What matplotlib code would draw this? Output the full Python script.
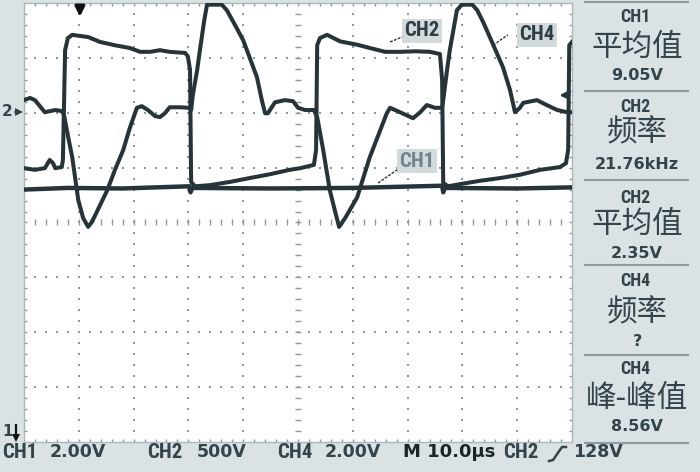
import matplotlib
matplotlib.use("Agg")
import matplotlib.pyplot as plt
from matplotlib import font_manager as fm
from matplotlib.lines import Line2D
import numpy as np

# ---------------- data (time in us, amplitude in screen divisions) ----------------
ch1_t = [0, 8, 18, 30.2, 30.4, 30.7, 45, 60, 76.3, 76.5, 76.8, 90, 100]
ch1_v = [0.60, 0.63, 0.62, 0.66, 0.55, 0.63, 0.62, 0.63, 0.67, 0.55, 0.63, 0.62, 0.64]

ch2_t = [0, 2.0, 3.8, 4.7, 5.3, 5.7, 6.9, 7.1, 7.5, 8.0, 8.8, 10.2, 11.7, 13.9, 16.6,
         19.3, 21.2, 23.0, 24.8, 26.6, 29.4, 29.9, 30.3, 30.5, 31.2, 33.9, 37.6, 41.2,
         44.9, 48.5, 50.4, 52.9, 53.3, 53.5, 54.0, 55.3, 57.7, 60.8, 63.1, 65.9, 68.6,
         71.4, 74.1, 75.9, 76.3, 76.5, 77.4, 79.6, 83.2, 86.9, 90.5, 94.2, 97.8, 98.9,
         99.3, 99.5, 100]
ch2_v = [0.99, 0.96, 0.99, 1.14, 1.08, 0.99, 1.01, 1.14, 3.14, 3.36, 3.42, 3.40, 3.38,
         3.29, 3.23, 3.18, 3.11, 3.11, 3.14, 3.11, 3.09, 3.03, 2.78, 0.74, 0.66, 0.68,
         0.74, 0.81, 0.88, 0.96, 0.99, 1.05, 1.32, 3.23, 3.36, 3.42, 3.30, 3.24, 3.18,
         3.11, 3.11, 3.12, 3.11, 3.07, 2.60, 0.72, 0.66, 0.70, 0.76, 0.81, 0.87, 0.96,
         1.01, 1.08, 1.32, 3.23, 3.29]

ch4_t = [0, 1.1, 2.0, 2.9, 3.8, 5.7, 6.9, 7.3, 8.0, 8.8, 9.9, 10.8, 11.7, 12.4, 13.9,
         15.2, 16.6, 18.1, 19.3, 20.6, 21.5, 22.6, 23.9, 24.8, 25.7, 26.6, 28.5, 30.1,
         30.5, 30.8, 31.6, 32.1, 32.9, 33.4, 36.1, 37.0, 38.5, 40.0, 41.2, 42.5, 43.4,
         44.0, 44.5, 45.8, 47.6, 49.1, 50.0, 51.3, 52.9, 53.5, 54.6, 55.8, 56.8, 57.5,
         58.6, 60.8, 63.1, 65.0, 66.2, 66.8, 68.6, 71.0, 72.3, 73.5, 75.0, 76.3, 76.5,
         77.2, 77.7, 79.0, 79.9, 81.8, 82.7, 83.8, 85.0, 87.4, 88.7, 89.6, 90.5, 91.1,
         93.6, 95.4, 97.3, 99.1, 100]
ch4_v = [2.23, 2.27, 2.23, 2.12, 2.01, 2.05, 2.03, 1.96, 1.59, 1.19, 0.41, 0.08, -0.08,
         0.01, 0.32, 0.59, 0.96, 1.32, 1.72, 2.09, 2.12, 2.05, 1.94, 1.92, 1.99, 2.10,
         2.10, 2.09, 2.05, 2.32, 2.78, 3.14, 3.69, 3.97, 3.97, 3.87, 3.60, 3.32, 3.00,
         2.65, 2.23, 1.99, 1.99, 2.19, 2.23, 2.21, 2.09, 2.05, 2.05, 1.92, 1.32, 0.59,
         0.19, -0.08, 0.08, 0.46, 1.19, 1.68, 1.99, 2.09, 2.01, 1.90, 2.01, 2.14, 2.09,
         2.09, 2.23, 2.78, 3.14, 3.87, 3.97, 3.97, 3.87, 3.65, 3.38, 2.83, 2.41, 2.01,
         2.09, 2.18, 2.23, 2.14, 2.05, 2.01, 2.01]

panel_channels = ["CH1", "CH2", "CH2", "CH4", "CH4"]
panel_names = ["平均值", "频率", "平均值", "频率", "峰-峰值"]
panel_values = ["9.05V", "21.76kHz", "2.35V", "?", "8.56V"]

bottom_labels = ["CH1", "2.00V", "CH2", "500V", "CH4", "2.00V"]
timebase = "M 10.0\u00b5s"
trigger_src, trigger_level = "CH2", "128V"

# ---------------- style ----------------
names = {f.name for f in fm.fontManager.ttflist}
NARROW = "DejaVu Sans"
for cand in ["Liberation Sans Narrow", "DejaVu Sans Condensed", "Roboto Condensed",
             "Noto Sans Condensed", "Open Sans Condensed", "Roboto"]:
    if cand in names:
        NARROW = cand
        break
CJK = ["Noto Sans CJK SC", "DejaVu Sans"]

BG = "#dbe2e3"
TRACE = "#26343a"
TXT = "#34444c"
GRIDC = "#8a999d"

W, H = 700, 472
fig = plt.figure(figsize=(7, 4.72), dpi=100, facecolor=BG)


def fx(px):
    return px / W


def fy(py):
    return 1 - py / H


ax = fig.add_axes([24 / W, 1 - 442 / H, 548 / W, 439 / H])
ax.set_facecolor("white")
ax.set_xlim(0, 100)
ax.set_ylim(-4, 4)
ax.set_xticks([])
ax.set_yticks([])
for s in ax.spines.values():
    s.set_color("#aab6b8")
    s.set_linewidth(1.0)

# graticule
minor_x = np.arange(2, 100, 2)
minor_y = np.round(np.arange(-3.8, 4.0, 0.2), 2)
for xv in range(10, 100, 10):
    if xv != 50:
        ax.plot(np.full(len(minor_y), xv), minor_y, ls="none", marker="s", ms=1.6,
                mew=0, color=GRIDC, zorder=1)
for yv in [-3, -2, -1, 1, 2, 3]:
    ax.plot(minor_x, np.full(len(minor_x), yv), ls="none", marker="s", ms=1.6,
            mew=0, color=GRIDC, zorder=1)
tick_kw = dict(ls="none", ms=5, mew=1, color=GRIDC, zorder=1)
ax.plot(minor_x, np.zeros(len(minor_x)), marker="|", **tick_kw)
ax.plot(np.full(len(minor_y), 50), minor_y, marker="_", **tick_kw)
ax.plot(minor_x, np.full(len(minor_x), 4), marker="|", **tick_kw)
ax.plot(minor_x, np.full(len(minor_x), -4), marker="|", **tick_kw)
ax.plot(np.zeros(len(minor_y)), minor_y, marker="_", **tick_kw)
ax.plot(np.full(len(minor_y), 100), minor_y, marker="_", **tick_kw)

# traces
ax.plot(ch1_t, ch1_v, color=TRACE, lw=3.2, zorder=3)
ax.plot(ch2_t, ch2_v, color=TRACE, lw=2.9, zorder=3)
ax.plot(ch4_t, ch4_v, color=TRACE, lw=2.9, zorder=3)

# channel labels
box = dict(boxstyle="square,pad=0.12", fc="#d3dadb", ec="none")
ax.text(72.6, 3.49, "CH2", family=NARROW, weight="bold", size=15, ha="center",
        va="center", color="#2f3d44", bbox=box, zorder=4)
ax.text(93.6, 3.42, "CH4", family=NARROW, weight="bold", size=15, ha="center",
        va="center", color="#2f3d44", bbox=box, zorder=4)
ax.text(71.7, 1.12, "CH1", family=NARROW, weight="bold", size=15, ha="center",
        va="center", color="#6f8490", bbox=box, zorder=4)
for (xa, xb, ya, yb) in [(66.8, 69.0, 3.29, 3.38), (85.6, 88.3, 3.23, 3.42),
                         (64.6, 68.1, 0.72, 0.96)]:
    ax.plot([xa, xb], [ya, yb], color=TRACE, lw=1.0, ls=(0, (2, 1)), zorder=4)

# trigger position marker and CH4 reference marker
ax.annotate("", xy=(10.2, 3.70), xytext=(10.2, 4.0),
            arrowprops=dict(arrowstyle="-|>", lw=2.4, color="#111111",
                            mutation_scale=14), annotation_clip=False, zorder=5)
ax.annotate("", xy=(97.2, 2.32), xytext=(100, 2.32),
            arrowprops=dict(arrowstyle="-|>", lw=1.8, color=TRACE,
                            mutation_scale=10), annotation_clip=False, zorder=5)

# left-side markers
fig.text(fx(2), fy(112), "2", family="DejaVu Sans", weight="bold", size=11,
         color=TXT, ha="left", va="center")
fig.add_artist(Line2D([fx(15), fx(20)], [fy(112), fy(112)], color=TXT, lw=1.2))
fig.add_artist(Line2D([fx(19)], [fy(112)], marker=">", ms=6, color=TXT, mew=0))
fig.text(fx(2), fy(431), "1", family="DejaVu Sans", weight="bold", size=11,
         color=TXT, ha="left", va="center")
fig.add_artist(Line2D([fx(16), fx(16)], [fy(425), fy(436)], color="#111111", lw=1.6))
fig.add_artist(Line2D([fx(16)], [fy(438)], marker="v", ms=6, color="#111111", mew=0))

# right measurement panel
block_y = [(16.5, 47.5, 75.0), (107.5, 133.0, 164.5), (198.0, 224.0, 253.5),
           (281.5, 312.5, 341.0), (369.5, 398.5, 426.5)]
for (yc, yn, yv), ch, nm, val in zip(block_y, panel_channels, panel_names, panel_values):
    fig.text(fx(635), fy(yc), ch, family=NARROW, weight="bold", size=13, color=TXT,
             ha="center", va="center")
    fig.text(fx(637), fy(yn), nm, family=CJK, size=22, color=TXT,
             ha="center", va="center")
    fig.text(fx(637), fy(yv), val, family="DejaVu Sans", weight="bold", size=11.5,
             color=TXT, ha="center", va="center")
for ys in [2, 90.7, 180, 265, 355, 443]:
    fig.add_artist(Line2D([fx(585), fx(688)], [fy(ys), fy(ys)], color="#8e9c9f", lw=1.5))

# bottom status bar
ybar = fy(452)
xs = [2, 50, 147, 197, 277, 325]
for x, lab in zip(xs, bottom_labels):
    if lab.startswith("CH"):
        fig.text(fx(x), ybar, lab, family=NARROW, weight="bold", size=15, color=TXT,
                 ha="left", va="center")
    else:
        fig.text(fx(x), ybar, lab, family="DejaVu Sans", weight="bold", size=12.5,
                 color=TXT, ha="left", va="center")
fig.text(fx(403), ybar, timebase, family="DejaVu Sans", weight="bold", size=13,
         color="#1c2428", ha="left", va="center")
fig.text(fx(503), ybar, trigger_src, family=NARROW, weight="bold", size=15, color=TXT,
         ha="left", va="center")
fig.add_artist(Line2D([fx(549), fx(553), fx(562), fx(566)],
                      [fy(461), fy(460), fy(447), fy(447)], color=TXT, lw=1.8))
fig.text(fx(573), ybar, trigger_level, family="DejaVu Sans", weight="bold", size=12.5,
         color=TXT, ha="left", va="center")

fig.savefig("out.png", dpi=100, facecolor=BG)
